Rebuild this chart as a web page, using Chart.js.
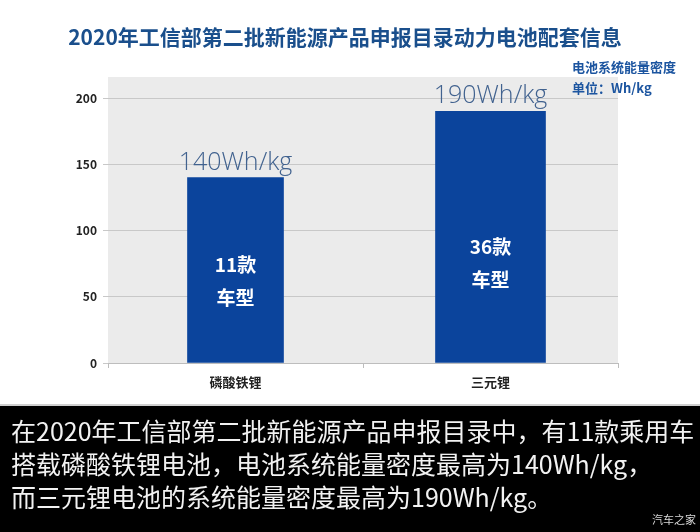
<!DOCTYPE html>
<html>
<head>
<meta charset="utf-8">
<script src="https://cdn.jsdelivr.net/npm/chart.js@4"></script>
<style>
  html, body { margin: 0; padding: 0; background: #ffffff; }
  #wrap { width: 700px; height: 532px; }
</style>
</head>
<body>
<div id="wrap"><canvas id="batteryChart" width="700" height="532"></canvas></div>
<script>
const categories = ["磷酸铁锂", "三元锂"];
const densityValues = [140, 190];
const valueLabels = ["140Wh/kg", "190Wh/kg"];
const modelCounts = ["11款", "36款"];
const yTicks = [0, 50, 100, 150, 200];

const titleText = "2020年工信部第二批新能源产品申报目录动力电池配套信息";
const unitLines = ["电池系统能量密度", "单位：Wh/kg"];
const captionLines = [
    "在2020年工信部第二批新能源产品申报目录中，有11款乘用车",
    "搭载磷酸铁锂电池，电池系统能量密度最高为140Wh/kg，",
    "而三元锂电池的系统能量密度最高为190Wh/kg。",
];

const CJK = '"Noto Sans CJK SC", "Noto Sans", sans-serif';

// the two bars are not the same width in the source, so each gets its own dataset
const barWidths = [96, 110];
const labelOffsets = [[265, 298], [247, 280]];

const plotBackground = {
    id: "plotBackground",
    beforeDraw(chart) {
        const { ctx, chartArea } = chart;
        ctx.save();
        ctx.fillStyle = "#ebebeb";
        ctx.fillRect(chartArea.left, chartArea.top, chartArea.right - chartArea.left, chartArea.bottom - chartArea.top);
        ctx.restore();
    },
};

const annotations = {
    id: "annotations",
    afterDraw(chart) {
        const { ctx } = chart;
        ctx.save();

        // title
        ctx.fillStyle = "#1a4f8c";
        ctx.font = "bold 21px " + CJK;
        ctx.textAlign = "center";
        ctx.textBaseline = "middle";
        ctx.fillText(titleText, 345, 37);

        // unit note
        ctx.fillStyle = "#1c55a0";
        ctx.font = "bold 13px " + CJK;
        ctx.textAlign = "left";
        ctx.fillText(unitLines[0], 572, 67);
        ctx.fillText(unitLines[1], 572, 88);

        // bar labels
        categories.forEach((cat, i) => {
            const bar = chart.getDatasetMeta(i).data[i];
            ctx.fillStyle = "#41628f";
            ctx.font = "300 25px 'Open Sans', sans-serif";
            ctx.textAlign = "center";
            ctx.textBaseline = "alphabetic";
            ctx.fillText(valueLabels[i], bar.x, bar.y - 8);

            ctx.fillStyle = "#ffffff";
            ctx.font = "bold 19px " + CJK;
            ctx.textBaseline = "middle";
            ctx.fillText(modelCounts[i], bar.x, labelOffsets[i][0]);
            ctx.fillText("车型", bar.x, labelOffsets[i][1]);
        });

        // caption box
        ctx.fillStyle = "#cfcfcf";
        ctx.fillRect(0, 404, 700, 2);
        ctx.fillStyle = "#000000";
        ctx.fillRect(0, 406, 700, 126);
        ctx.fillStyle = "#f2f2f2";
        ctx.font = "25px " + CJK;
        ctx.textAlign = "left";
        ctx.textBaseline = "middle";
        captionLines.forEach((line, i) => ctx.fillText(line, 11, 431 + i * 33));
        ctx.fillStyle = "#d8d8d8";
        ctx.font = "11px " + CJK;
        ctx.textAlign = "right";
        ctx.fillText("汽车之家", 696, 520);
        ctx.restore();
    },
};

new Chart(document.getElementById("batteryChart"), {
    type: "bar",
    data: {
        labels: categories,
        datasets: categories.map((cat, i) => ({
            label: cat,
            data: densityValues.map((v, j) => (j === i ? v : null)),
            backgroundColor: "#0b449c",
            borderWidth: 0,
            barThickness: barWidths[i],
        })),
    },
    options: {
        responsive: false,
        animation: false,
        layout: { padding: { left: 0, right: 82, top: 77, bottom: 129 } },
        plugins: {
            legend: { display: false },
            tooltip: { enabled: false },
        },
        scales: {
            y: {
                min: 0,
                max: 216,
                afterBuildTicks: (scale) => {
                    scale.ticks = yTicks.map((v) => ({ value: v }));
                },
                afterFit: (scale) => {
                    scale.width = 108;
                },
                ticks: {
                    color: "#222222",
                    font: { family: CJK, size: 12, weight: "bold" },
                    padding: 6,
                },
                grid: { color: "#c8c8c8", tickLength: 5, lineWidth: 1 },
                border: { display: false },
            },
            x: {
                stacked: true,
                afterFit: (scale) => {
                    scale.height = 40;
                },
                ticks: {
                    color: "#222222",
                    font: { family: CJK, size: 13, weight: "bold" },
                    padding: 6,
                },
                grid: { drawOnChartArea: false, tickLength: 5, color: "#bdbdbd" },
                border: { color: "#bdbdbd" },
            },
        },
    },
    plugins: [plotBackground, annotations],
});
</script>
</body>
</html>
